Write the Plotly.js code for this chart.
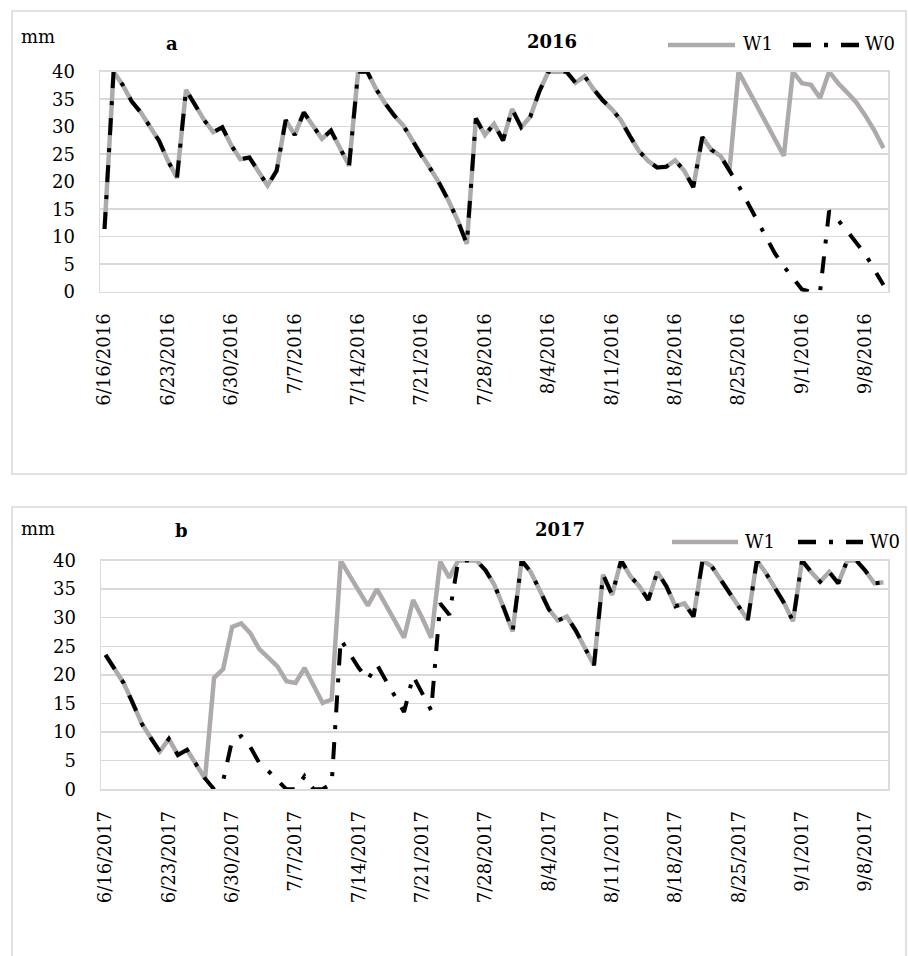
<!DOCTYPE html>
<html>
<head>
<meta charset="utf-8">
<script src="https://cdn.plot.ly/plotly-3.0.1.min.js"></script>
<style>
html,body{margin:0;padding:0;background:#ffffff;}
#chart{width:908px;height:956px;}
</style>
</head>
<body>
<div id="chart"></div>
<script>
// ---------------- data ----------------
const seriesNames = ['W1', 'W0'];
const panelYears = ['2016', '2017'];
const panelLetters = ['a', 'b'];
const unitLabel = 'mm';
const firstDay2016 = '2016-06-16';
const firstDay2017 = '2017-06-16';

// daily soil water values (mm), 6/16 .. 9/10
const W1_2016 = [11.4, 40, 37.6, 34.6, 32.6, 30.1, 27.5, 23.8, 20.7, 36.7,
  33.9, 31.2, 29.0, 29.9, 26.6, 24.1, 24.4, 21.9, 19.3, 22.0,
  31.2, 28.5, 32.6, 30.2, 27.8, 29.3, 26.1, 22.9, 40, 40,
  36.8, 34.2, 32.0, 30.2, 27.5, 24.7, 22.3, 19.6, 16.5, 12.9,
  8.7, 31.5, 28.5, 30.5, 27.5, 33.2, 29.9, 31.8, 36.4, 40,
  40, 40, 38.0, 39.2, 36.8, 34.8, 33.2, 31.2, 28.3, 25.6,
  23.8, 22.6, 22.7, 23.9, 22.0, 19.0, 28.1, 25.8, 24.7, 22.1,
  40, 36.9, 33.8, 30.8, 27.7, 24.7, 40, 37.9, 37.6, 35.2,
  40, 37.9, 36.2, 34.4, 32.0, 29.3, 26.1];

const W0_2016 = [11.4, 40, 37.6, 34.6, 32.6, 30.1, 27.5, 23.8, 20.7, 36.7,
  33.9, 31.2, 29.0, 29.9, 26.6, 24.1, 24.4, 21.9, 19.3, 22.0,
  31.2, 28.5, 32.6, 30.2, 27.8, 29.3, 26.1, 22.9, 40, 40,
  36.8, 34.2, 32.0, 30.2, 27.5, 24.7, 22.3, 19.6, 16.5, 12.9,
  8.7, 31.5, 28.5, 30.5, 27.5, 33.2, 29.9, 31.8, 36.4, 40,
  40, 40, 38.0, 39.2, 36.8, 34.8, 33.2, 31.2, 28.3, 25.6,
  23.8, 22.6, 22.7, 23.9, 22.0, 19.0, 28.1, 25.8, 24.7, 22.1,
  19.3, 16.2, 13.2, 10.0, 7.0, 4.6, 2.4, 0.4, 0, 0,
  14.7, 13.0, 11.0, 9.0, 6.8, 4.0, 1.2];

const W1_2017 = [23.5, 21.2, 18.6, 15.1, 11.5, 9.0, 6.6, 8.8, 6.0, 6.9,
  4.5, 1.9, 19.5, 21.0, 28.4, 29.0, 27.3, 24.5, 23.0, 21.5,
  18.9, 18.6, 21.2, 18.0, 15.1, 15.7, 40, 37.3, 34.6, 32.1,
  35.0, 32.3, 29.4, 26.5, 33.1, 30.0, 26.5, 39.8, 37.0, 40,
  40, 40, 38.3, 35.7, 31.8, 27.6, 40, 38.0, 34.8, 31.5,
  29.5, 30.2, 27.7, 24.8, 21.7, 37.5, 34.0, 40, 37.3, 35.5,
  33.1, 38.0, 35.5, 32.0, 32.5, 30.2, 40, 39.0, 36.6, 34.1,
  32.0, 29.6, 40, 37.8, 35.2, 32.6, 29.4, 40, 38.0, 36.3,
  38.0, 36.0, 40, 40, 38.2, 36.0, 36.2];

const W0_2017 = [23.5, 21.2, 18.6, 15.1, 11.5, 9.0, 6.6, 8.8, 6.0, 6.9,
  4.5, 1.9, 0, 1.5, 8.6, 9.3, 7.4, 4.6, 3.2, 1.6,
  0, 0, 2.3, 0, 0, 1.0, 26.2, 23.7, 21.2, 19.2,
  21.8, 19.0, 16.3, 13.5, 19.8, 16.8, 13.8, 32.5, 30.5, 40,
  40, 40, 38.3, 35.7, 31.8, 27.6, 40, 38.0, 34.8, 31.5,
  29.5, 30.2, 27.7, 24.8, 21.7, 37.5, 34.0, 40, 37.3, 35.5,
  33.1, 38.0, 35.5, 32.0, 32.5, 30.2, 40, 39.0, 36.6, 34.1,
  32.0, 29.6, 40, 37.8, 35.2, 32.6, 29.4, 40, 38.0, 36.3,
  38.0, 36.0, 40, 40, 38.2, 36.0, 36.2];

const ticks2016 = ['6/16/2016', '6/23/2016', '6/30/2016', '7/7/2016', '7/14/2016', '7/21/2016',
  '7/28/2016', '8/4/2016', '8/11/2016', '8/18/2016', '8/25/2016', '9/1/2016', '9/8/2016'];
const ticks2017 = ['6/16/2017', '6/23/2017', '6/30/2017', '7/7/2017', '7/14/2017', '7/21/2017',
  '7/28/2017', '8/4/2017', '8/11/2017', '8/18/2017', '8/25/2017', '9/1/2017', '9/8/2017'];
const yTicks = [0, 5, 10, 15, 20, 25, 30, 35, 40];

// ---------------- helpers ----------------
function dailyDates(startIso, n) {
  const p = startIso.split('-').map(Number);
  const out = [];
  for (let i = 0; i < n; i++) {
    out.push(new Date(Date.UTC(p[0], p[1] - 1, p[2] + i)).toISOString().slice(0, 10));
  }
  return out;
}
function labelToIso(label) {
  const [m, d, y] = label.split('/');
  return y + '-' + m.padStart(2, '0') + '-' + d.padStart(2, '0');
}
function shiftIso(iso, hours) {
  const p = iso.split('-').map(Number);
  const t = new Date(Date.UTC(p[0], p[1] - 1, p[2]) + hours * 3600000);
  return t.toISOString().slice(0, 19).replace('T', ' ');
}

const PW = 908, PH = 956;
const fx = v => v / PW;
const fy = v => 1 - v / PH;

const FONT = 'DejaVu Serif';
const GRAY = '#aeaaaa';
const W0DASH = '17px,13px,4px,13px';

const dates2016 = dailyDates(firstDay2016, W1_2016.length);
const dates2017 = dailyDates(firstDay2017, W1_2017.length);

const traces = [
  {x: dates2016, y: W1_2016, name: seriesNames[0], type: 'scatter', mode: 'lines',
   line: {color: GRAY, width: 4.5}, xaxis: 'x', yaxis: 'y', cliponaxis: false, showlegend: false},
  {x: dates2016, y: W0_2016, name: seriesNames[1], type: 'scatter', mode: 'lines',
   line: {color: '#000000', width: 4, dash: W0DASH}, xaxis: 'x', yaxis: 'y', cliponaxis: false, showlegend: false},
  {x: dates2017, y: W1_2017, name: seriesNames[0], type: 'scatter', mode: 'lines',
   line: {color: GRAY, width: 4.5}, xaxis: 'x2', yaxis: 'y2', cliponaxis: false, showlegend: false},
  {x: dates2017, y: W0_2017, name: seriesNames[1], type: 'scatter', mode: 'lines',
   line: {color: '#000000', width: 4, dash: W0DASH}, xaxis: 'x2', yaxis: 'y2', cliponaxis: false, showlegend: false}
];

function xAxis(dates, ticks, domain) {
  return {
    type: 'date',
    domain: domain,
    range: [shiftIso(dates[0], -12), shiftIso(dates[dates.length - 1], 12)],
    tickmode: 'array',
    tickvals: ticks.map(labelToIso),
    ticktext: ticks,
    tickangle: -90,
    ticks: 'outside', ticklen: 13, tickcolor: 'rgba(0,0,0,0)',
    tickfont: {family: FONT, size: 18, color: '#000'},
    showgrid: false, zeroline: false,
    showline: true, mirror: true, linecolor: '#dcdcdc', linewidth: 1.5,
    fixedrange: true
  };
}
function yAxis(domain, anchor) {
  return {
    domain: domain, anchor: anchor,
    range: [0, 40],
    tickmode: 'array', tickvals: yTicks, ticktext: yTicks.map(String),
    ticks: 'outside', ticklen: 20, tickcolor: 'rgba(0,0,0,0)',
    tickfont: {family: FONT, size: 18, color: '#000'},
    showgrid: true, gridcolor: '#d9d9d9', gridwidth: 1.5,
    zeroline: false,
    showline: true, mirror: true, linecolor: '#dcdcdc', linewidth: 1.5,
    fixedrange: true
  };
}

// panel geometry (px)
const panels = [
  {left: 100, right: 888, top: 71.7, bottom: 291.7, box: [12, 11, 906, 474],
   mmY: 36, letterX: 172, letterY: 44, yearX: 552, yearY: 42, legY: 45, legTextY: 44,
   w1: [668, 735], w1t: 741, w0: [793, 860], w0t: 863},
  {left: 101, right: 888, top: 560.5, bottom: 789.3, box: [12, 507, 906, 980],
   mmY: 528, letterX: 181, letterY: 530, yearX: 560, yearY: 529, legY: 542, legTextY: 541,
   w1: [672, 738], w1t: 743, w0: [798, 863], w0t: 868}
];

const layout = {
  width: PW, height: PH,
  margin: {l: 0, r: 0, t: 0, b: 0},
  paper_bgcolor: '#ffffff', plot_bgcolor: '#ffffff',
  showlegend: false,
  font: {family: FONT, size: 18, color: '#000'},
  xaxis: xAxis(dates2016, ticks2016, [fx(panels[0].left), fx(panels[0].right)]),
  yaxis: yAxis([fy(panels[0].bottom), fy(panels[0].top)], 'x'),
  xaxis2: Object.assign(xAxis(dates2017, ticks2017, [fx(panels[1].left), fx(panels[1].right)]), {anchor: 'y2'}),
  yaxis2: yAxis([fy(panels[1].bottom), fy(panels[1].top)], 'x2'),
  shapes: [], annotations: []
};
layout.xaxis.anchor = 'y';

panels.forEach((p, i) => {
  const b = p.box;
  layout.shapes.push({type: 'rect', xref: 'paper', yref: 'paper', layer: 'below',
    x0: fx(b[0]), x1: fx(b[2]), y0: fy(b[1]), y1: fy(b[3]),
    line: {color: '#d9d9d9', width: 1.5}, fillcolor: 'rgba(0,0,0,0)'});
  // legend samples
  layout.shapes.push({type: 'line', xref: 'paper', yref: 'paper',
    x0: fx(p.w1[0]), x1: fx(p.w1[1]), y0: fy(p.legY), y1: fy(p.legY),
    line: {color: GRAY, width: 4.5}});
  layout.shapes.push({type: 'line', xref: 'paper', yref: 'paper',
    x0: fx(p.w0[0]), x1: fx(p.w0[1]), y0: fy(p.legY), y1: fy(p.legY),
    line: {color: '#000', width: 4.5, dash: '18px,13px,4px,13px'}});
  const ann = (text, x, y, xanchor, bold) => layout.annotations.push({
    text: bold ? '<b>' + text + '</b>' : text, xref: 'paper', yref: 'paper',
    x: fx(x), y: fy(y), xanchor: xanchor, yanchor: 'middle', showarrow: false,
    font: {family: FONT, size: 18, color: '#000'}});
  ann(unitLabel, 19, p.mmY, 'left', false);
  ann(panelLetters[i], p.letterX, p.letterY, 'center', true);
  ann(panelYears[i], p.yearX, p.yearY, 'center', true);
  ann(seriesNames[0], p.w1t, p.legTextY, 'left', false);
  ann(seriesNames[1], p.w0t, p.legTextY, 'left', false);
});

Plotly.newPlot('chart', traces, layout, {displayModeBar: false, staticPlot: true});
</script>
</body>
</html>
